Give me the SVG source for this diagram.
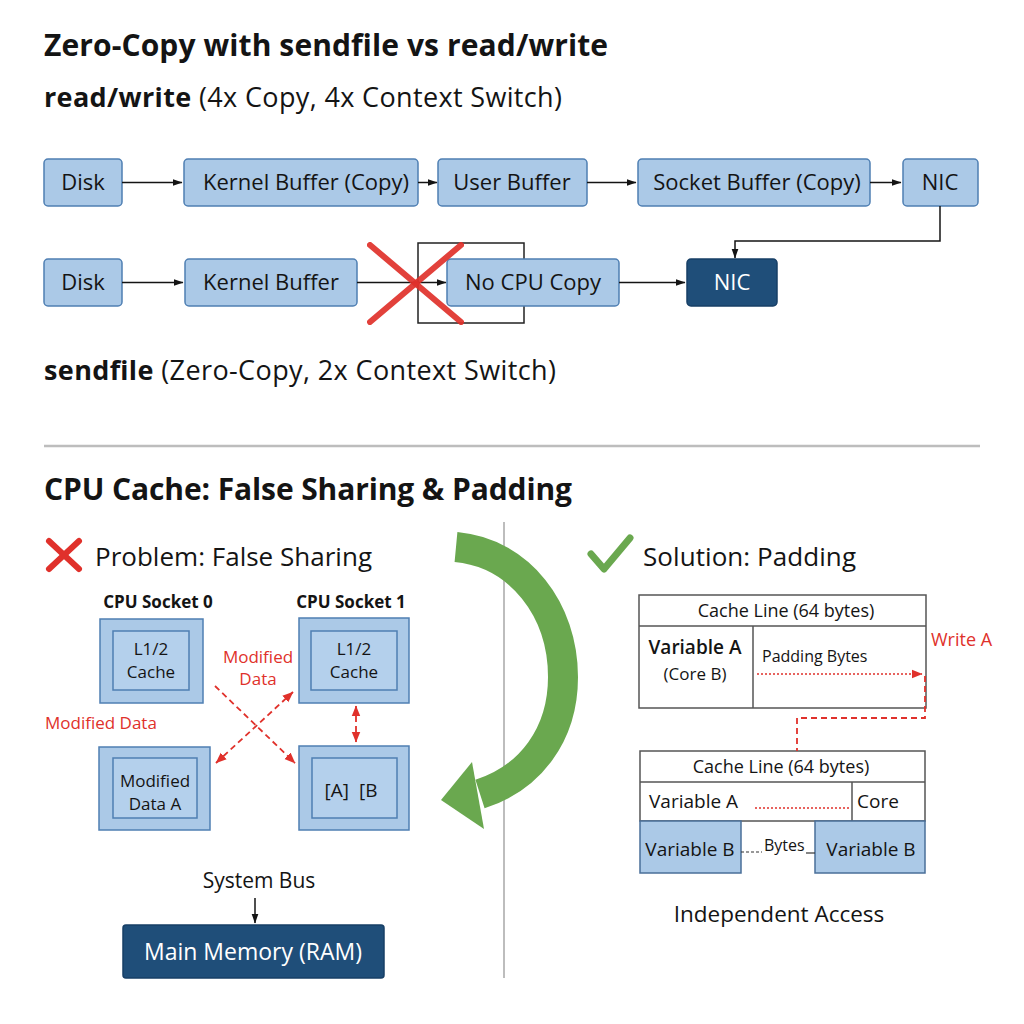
<svg xmlns="http://www.w3.org/2000/svg" width="1024" height="1024" viewBox="0 0 1024 1024">
<defs>
<style>
.t{font-family:"Open Sans","Noto Sans","Liberation Sans",sans-serif;fill:#141414}
.b{font-weight:700}
.m{text-anchor:middle}
.w{fill:#fff}
.r{fill:#e0312b}
.box{fill:#abc9e7;stroke:#4f7fb3;stroke-width:1.5}
.inner{fill:#b4d0ec;stroke:#4f7fb3;stroke-width:1.5}
.dark{fill:#1f4e79;stroke:#173f66;stroke-width:1.5}
.cell{fill:#fff;stroke:#555;stroke-width:1.5}
.conn{stroke:#141414;stroke-width:1.5;fill:none}
.rdash{stroke:#e0312b;stroke-width:1.8;stroke-dasharray:6 4;fill:none}
.rdot{stroke:#e0312b;stroke-width:1.3;stroke-dasharray:2 2;fill:none}
</style>
<marker id="ah" markerUnits="userSpaceOnUse" markerWidth="10" markerHeight="10" viewBox="0 0 10 10" refX="9.5" refY="5" orient="auto"><path d="M0,1.5 L10,5 L0,8.5 z" fill="#141414"/></marker>
<marker id="rh" markerUnits="userSpaceOnUse" markerWidth="11" markerHeight="11" viewBox="0 0 10 10" refX="9.5" refY="5" orient="auto-start-reverse"><path d="M0,1 L10,5 L0,9 z" fill="#e0312b"/></marker>
</defs>
<rect width="1024" height="1024" fill="#fff"/>

<g id="titles">
<text class="t b" x="44" y="56" font-size="30" textLength="564">Zero-Copy with sendfile vs read/write</text>
<text class="t" x="44" y="107" font-size="27" textLength="518"><tspan class="b">read/write</tspan> (4x Copy, 4x Context Switch)</text>
<text class="t" x="44" y="380" font-size="27" textLength="512"><tspan class="b">sendfile</tspan> (Zero-Copy, 2x Context Switch)</text>
<text class="t b" x="44" y="500" font-size="30" textLength="528">CPU Cache: False Sharing &amp; Padding</text>
</g>

<g id="separators">
<line x1="44" y1="446" x2="980" y2="446" stroke="#bdbdbd" stroke-width="2.5"/>
<line x1="504" y1="522" x2="504" y2="978" stroke="#bdbdbd" stroke-width="2"/>
</g>

<g id="rw-disk"><rect class="box" x="44" y="159" width="78" height="47" rx="4"/><text class="t m" x="83" y="190" font-size="22">Disk</text></g>
<g id="rw-kbuf"><rect class="box" x="184" y="159" width="234" height="47" rx="4"/><text class="t m" x="306" y="190" font-size="22">Kernel Buffer (Copy)</text></g>
<g id="rw-ubuf"><rect class="box" x="438" y="159" width="149" height="47" rx="4"/><text class="t m" x="512" y="190" font-size="22">User Buffer</text></g>
<g id="rw-sbuf"><rect class="box" x="638" y="159" width="232" height="47" rx="4"/><text class="t m" x="757" y="190" font-size="22">Socket Buffer (Copy)</text></g>
<g id="rw-nic"><rect class="box" x="903" y="159" width="75" height="47" rx="4"/><text class="t m" x="940" y="190" font-size="22">NIC</text></g>

<g id="sf-frame"><rect x="418" y="243" width="106" height="80" fill="none" stroke="#222" stroke-width="1.5"/></g>
<g id="sf-disk"><rect class="box" x="44" y="259" width="78" height="47" rx="4"/><text class="t m" x="83" y="290" font-size="22">Disk</text></g>
<g id="sf-kbuf"><rect class="box" x="185" y="259" width="172" height="47" rx="4"/><text class="t m" x="271" y="290" font-size="22">Kernel Buffer</text></g>
<g id="sf-nocpu"><rect class="box" x="447" y="259" width="172" height="47" rx="4"/><text class="t m" x="533" y="290" font-size="22">No CPU Copy</text></g>
<g id="sf-nic"><rect class="dark" x="687" y="259" width="90" height="47" rx="4"/><text class="t m w" x="732" y="290" font-size="22">NIC</text></g>

<g id="connectors-top">
<line class="conn" x1="122" y1="182.5" x2="182" y2="182.5" marker-end="url(#ah)"/>
<line class="conn" x1="418" y1="182.5" x2="437" y2="182.5" marker-end="url(#ah)"/>
<line class="conn" x1="587" y1="182.5" x2="636" y2="182.5" marker-end="url(#ah)"/>
<line class="conn" x1="870" y1="182.5" x2="901" y2="182.5" marker-end="url(#ah)"/>
<polyline class="conn" points="940,206 940,241 735,241 735,258" marker-end="url(#ah)"/>
<line class="conn" x1="122" y1="282.5" x2="183" y2="282.5" marker-end="url(#ah)"/>
<line class="conn" x1="357" y1="282.5" x2="446" y2="282.5" marker-end="url(#ah)"/>
<line class="conn" x1="619" y1="282.5" x2="685" y2="282.5" marker-end="url(#ah)"/>
</g>

<g id="sf-cross">
<line x1="370" y1="245" x2="461" y2="322" stroke="#e0312b" stroke-width="6" stroke-linecap="round" opacity="0.92"/>
<line x1="461" y1="245" x2="370" y2="322" stroke="#e0312b" stroke-width="6" stroke-linecap="round" opacity="0.92"/>
</g>

<g id="problem-head">
<line x1="49" y1="541" x2="79" y2="569" stroke="#e0312b" stroke-width="6" stroke-linecap="round"/>
<line x1="79" y1="541" x2="49" y2="569" stroke="#e0312b" stroke-width="6" stroke-linecap="round"/>
<text class="t" x="95" y="566" font-size="26" textLength="277">Problem: False Sharing</text>
</g>
<g id="solution-head">
<polyline points="591,554 604,569 630,538" fill="none" stroke="#6aa84f" stroke-width="7" stroke-linecap="round" stroke-linejoin="round"/>
<text class="t" x="643" y="566" font-size="26" textLength="213">Solution: Padding</text>
</g>

<g id="green-arrow">
<path d="M456,547 C520,553 563,610 563,677 C563,735 530,778 480,794" fill="none" stroke="#6aa84f" stroke-width="30"/>
<polygon points="441,800 472,762 484,829" fill="#6aa84f"/>
</g>

<g id="socket0-label"><text class="t b m" x="158" y="608" font-size="17">CPU Socket 0</text></g>
<g id="socket1-label"><text class="t b m" x="351" y="608" font-size="17">CPU Socket 1</text></g>
<g id="socket0-cache"><rect class="box" x="100" y="619" width="103" height="84"/><rect class="inner" x="113" y="631" width="76" height="59"/><text class="t m" x="151" y="655" font-size="17">L1/2</text><text class="t m" x="151" y="678" font-size="17">Cache</text></g>
<g id="socket1-cache"><rect class="box" x="299" y="618" width="110" height="85"/><rect class="inner" x="311" y="631" width="86" height="59"/><text class="t m" x="354" y="655" font-size="17">L1/2</text><text class="t m" x="354" y="678" font-size="17">Cache</text></g>
<g id="socket0-data"><rect class="box" x="99" y="747" width="111" height="83"/><rect class="inner" x="113" y="758" width="84" height="60"/><text class="t m" x="155" y="787" font-size="17">Modified</text><text class="t m" x="155" y="810" font-size="17">Data A</text></g>
<g id="socket1-data"><rect class="box" x="299" y="746" width="110" height="84"/><rect class="inner" x="312" y="758" width="85" height="60"/><text class="t m" x="351" y="797" font-size="19">[A]&#160;&#160;[B</text></g>

<g id="labels-red">
<text class="t m r" x="258" y="663" font-size="17">Modified</text>
<text class="t m r" x="258" y="685" font-size="17">Data</text>
<text class="t r" x="45" y="729" font-size="17">Modified Data</text>
</g>

<g id="connectors-cache">
<line class="rdash" x1="215" y1="686" x2="295" y2="763" marker-end="url(#rh)"/>
<line class="rdash" x1="216" y1="763" x2="293" y2="692" marker-start="url(#rh)" marker-end="url(#rh)"/>
<line class="rdash" x1="356" y1="706" x2="356" y2="742" marker-start="url(#rh)" marker-end="url(#rh)"/>
<line class="conn" x1="255" y1="898" x2="255" y2="923" marker-end="url(#ah)"/>
</g>

<g id="system-bus"><text class="t m" x="259" y="888" font-size="21">System Bus</text></g>
<g id="main-memory"><rect class="dark" x="123" y="925" width="261" height="53" rx="3"/><text class="t m w" x="253" y="960" font-size="23">Main Memory (RAM)</text></g>

<g id="padded-line">
<rect class="cell" x="639" y="595" width="287" height="113"/>
<line class="cell" x1="639" y1="626" x2="926" y2="626"/>
<line class="cell" x1="753" y1="626" x2="753" y2="708"/>
<text class="t m" x="786" y="617" font-size="18">Cache Line (64 bytes)</text>
<text class="t m" x="695" y="654" font-size="19" font-weight="600">Variable A</text>
<text class="t m" x="695" y="680" font-size="17">(Core B)</text>
<text class="t" x="762" y="662" font-size="16">Padding Bytes</text>
</g>
<g id="write-a"><text class="t r" x="931" y="646" font-size="18">Write A</text></g>

<g id="shared-line">
<rect class="cell" x="640" y="751" width="285" height="70"/>
<line class="cell" x1="640" y1="782" x2="925" y2="782"/>
<line class="cell" x1="852" y1="782" x2="852" y2="821"/>
<text class="t m" x="781" y="773" font-size="18">Cache Line (64 bytes)</text>
<text class="t" x="649" y="808" font-size="19">Variable A</text>
<text class="t" x="857" y="808" font-size="19">Core</text>
</g>
<g id="var-b-left"><rect x="640" y="821" width="101" height="52" fill="#abc9e7" stroke="#4a6f99" stroke-width="1.5"/><text class="t m" x="690" y="856" font-size="19">Variable B</text></g>
<g id="var-b-right"><rect x="815" y="821" width="110" height="52" fill="#abc9e7" stroke="#4a6f99" stroke-width="1.5"/><text class="t m" x="871" y="856" font-size="19">Variable B</text></g>

<g id="connectors-padding">
<line class="rdot" x1="757" y1="674" x2="922" y2="674" marker-end="url(#rh)"/>
<polyline class="rdash" points="925,676 925,718 797,718 797,751"/>
<line class="rdot" x1="755" y1="808" x2="851" y2="808"/>
<line x1="741" y1="852" x2="762" y2="852" stroke="#333" stroke-width="1.2" stroke-dasharray="3 2"/>
<line x1="806" y1="853" x2="815" y2="853" stroke="#333" stroke-width="1.2"/>
</g>
<g id="bytes-label"><text class="t" x="764" y="851" font-size="16">Bytes</text></g>
<g id="independent"><text class="t m" x="779" y="922" font-size="22.5">Independent Access</text></g>
</svg>
